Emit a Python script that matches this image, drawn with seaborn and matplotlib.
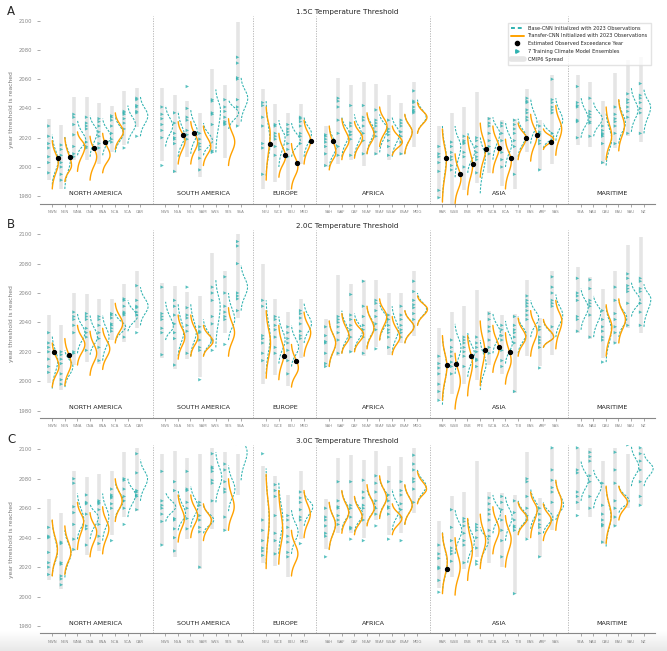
import numpy as np
import matplotlib
matplotlib.use('Agg')
import matplotlib.pyplot as plt
import seaborn as sns
import pandas as pd
from matplotlib.lines import Line2D

# regions and groups
regions = ['NWN', 'NEN', 'WNA', 'CNA', 'ENA', 'NCA', 'SCA', 'CAR',
           'NWS', 'NSA', 'NES', 'SAM', 'SWS', 'SES', 'SSA',
           'NEU', 'WCE', 'EEU', 'MED',
           'SAH', 'WAF', 'CAF', 'NEAF', 'SEAF', 'WSAF', 'ESAF', 'MDG',
           'RAR', 'WSB', 'ESB', 'RFE', 'WCA', 'ECA', 'TIB', 'EAS', 'ARP', 'SAS',
           'SEA', 'NAU', 'CAU', 'EAU', 'SAU', 'NZ']
group_names = ['NORTH AMERICA', 'SOUTH AMERICA', 'EUROPE', 'AFRICA', 'ASIA', 'MARITIME']
group_sizes = [8, 7, 4, 8, 10, 6]
thresholds = ['1.5C', '2.0C', '3.0C']
letters = ['A', 'B', 'C']
N = None

# ---------------- 1.5C ----------------
cmip_a = [(1991, 2033), (1985, 2029), (2005, 2048), (2005, 2048), (2002, 2044), (2010, 2042), (2015, 2052), (2027, 2054),
          (2004, 2054), (1996, 2049), (2007, 2045), (1993, 2037), (2010, 2067), (2006, 2056), (2028, 2099),
          (1985, 2053), (1990, 2043), (1984, 2037), (2002, 2043),
          (2000, 2028), (2002, 2061), (2005, 2056), (2001, 2058), (2008, 2057), (2005, 2049), (2008, 2044), (2014, 2058),
          (1979, 2028), (1975, 2037), (1984, 2041), (1989, 2051), (1996, 2034), (1987, 2032), (1985, 2033), (2010, 2053), (1998, 2032), (2002, 2063),
          (2015, 2063), (2014, 2058), (2002, 2045), (2013, 2064), (2021, 2073), (2017, 2075)]
base_a = [(1988, 2004, 2022), (1985, 2005, 2021), (2008, 2018, 2032), (2007, 2024, 2035), (2008, 2021, 2033), (2010, 2023, 2035), (2016, 2029, 2042), (2021, 2035, 2048),
          (2014, 2028, 2042), (2007, 2021, 2038), (2009, 2024, 2039), (2008, 2018, 2030), (2010, 2039, 2053), (2026, 2037, 2046), (2031, 2047, 2061),
          (1994, 2016, 2045), (2000, 2020, 2032), (2007, 2018, 2030), (2007, 2023, 2034),
          (2000, 2014, 2028), (2007, 2023, 2034), (2007, 2023, 2036), (2009, 2025, 2037), (2010, 2026, 2036), (2007, 2023, 2034), (2009, 2024, 2036), (2023, 2034, 2046),
          (1977, 2007, 2028), (1993, 2014, 2028), (1996, 2011, 2024), (1982, 2007, 2021), (2005, 2023, 2034), (2000, 2016, 2031), (2007, 2021, 2033), (2016, 2030, 2047), (2013, 2021, 2030), (2018, 2032, 2047),
          (2020, 2033, 2048), (2021, 2033, 2044), (2001, 2019, 2037), (2016, 2030, 2046), (2024, 2039, 2054), (2023, 2041, 2053)]
transfer_a = [(1985, 2003, 2018), (1990, 2001, 2020), (1997, 2014, 2024), (1991, 2007, 2021), (1996, 2008, 2023), (2012, 2024, 2037), N, N,
              N, (2002, 2018, 2031), (2002, 2017, 2031), (2001, 2014, 2028), N, (2001, 2017, 2033), N,
              (1991, 2023, 2041), (1993, 2007, 2023), (1985, 2000, 2016), (2002, 2018, 2032),
              (1998, 2010, 2028), (2005, 2018, 2033), (2006, 2020, 2031), (2009, 2022, 2037), (2014, 2028, 2041), (2008, 2017, 2028), (2009, 2024, 2036), (2023, 2034, 2044),
              (1976, 2005, 2026), (1975, 1992, 2009), (1981, 2001, 2021), (1993, 2012, 2030), (1996, 2013, 2028), (1985, 2004, 2019), (2005, 2020, 2030), (2004, 2021, 2036), (2012, 2019, 2026), (2008, 2026, 2042),
              N, N, (2005, 2021, 2041), (2011, 2028, 2046), N, N]
obs_a = [2006, 2007, N, 2013, 2017, N, N, N,
         N, 2022, 2023, N, N, N, N,
         2016, 2008, 2003, 2018,
         2018, N, N, N, N, N, N, N,
         2006, 1995, 2002, 2012, 2013, 2006, 2020, 2022, 2017, N,
         N, N, N, N, N, N]
ens_a = [[2028, 2021, 2016, 2013, 2007, 2003, 1996], [2015, 2012, 2008, 2003, 2000, 1995, 1991],
         [2036, 2034, 2029, 2022, 2014, 2009, 2007], [2034, 2030, 2028, 2026, 2017, 2014, 2013],
         [2033, 2031, 2028, 2024, 2021, 2016, 2013], [2035, 2034, 2032, 2028, 2023, 2019, 2017],
         [2038, 2037, 2036, 2033, 2030, 2026, 2013], [2047, 2046, 2042, 2041, 2038, 2037, 2021],
         [2041, 2036, 2033, 2029, 2025, 2020, 2001], [2037, 2030, 2023, 2020, 2019, 2016, 1997],
         [2055, 2040, 2034, 2032, 2025, 2022, 2019], [2023, 2019, 2016, 2014, 2012, 2006, 1998],
         [2046, 2045, 2037, 2036, 2029, 2011, 2010], [2046, 2041, 2038, 2034, 2031, 2030, 2029],
         [2075, 2071, 2061, 2060, 2046, 2041, 2028],
         [2044, 2042, 2034, 2028, 2016, 2013, 1995], [2029, 2028, 2023, 2021, 2019, 2014, 2008],
         [2029, 2026, 2024, 2022, 2016, 2012, 2007], [2034, 2033, 2031, 2028, 2023, 2021, 2016],
         [2022, 2021, 2019, 2017, 2014, 2009, 2001], [2047, 2045, 2041, 2032, 2023, 2014, 2008],
         [2042, 2030, 2028, 2024, 2022, 2019, 2008], [2042, 2034, 2032, 2028, 2023, 2018, 2009],
         [2039, 2032, 2030, 2028, 2024, 2021, 2009], [2032, 2026, 2024, 2022, 2018, 2014, 2008],
         [2032, 2030, 2028, 2024, 2021, 2017, 2009], [2052, 2045, 2044, 2041, 2039, 2038, 2037],
         [2014, 2009, 2007, 2003, 1997, 1984, 1979], [2017, 2014, 2010, 2007, 2005, 2001, 1998],
         [2021, 2018, 2017, 2016, 2010, 2007, 2000], [2020, 2018, 2014, 2010, 2007, 2005, 1996],
         [2033, 2030, 2028, 2023, 2018, 2014, 2009], [2030, 2028, 2023, 2018, 2010, 2005, 2000],
         [2032, 2029, 2026, 2023, 2018, 2014, 1995], [2047, 2045, 2044, 2039, 2037, 2034, 2032],
         [2028, 2024, 2023, 2022, 2018, 2016, 1998], [2060, 2046, 2044, 2041, 2039, 2037, 2023],
         [2055, 2044, 2042, 2041, 2032, 2031, 2020], [2047, 2038, 2036, 2034, 2031, 2030, 2021],
         [2028, 2025, 2023, 2022, 2021, 2016, 2003], [2041, 2036, 2033, 2031, 2028, 2023, 2016],
         [2050, 2046, 2044, 2041, 2038, 2034, 2023], [2057, 2049, 2047, 2044, 2040, 2037, 2023]]

# ---------------- 2.0C ----------------
cmip_b = [(1999, 2045), (1994, 2038), (2011, 2060), (2013, 2059), (2012, 2056), (2028, 2056), (2027, 2066), (2036, 2075),
          (2016, 2067), (2008, 2065), (2015, 2061), (2003, 2058), (2025, 2087), (2033, 2075), (2043, 2100),
          (1998, 2080), (2004, 2056), (1997, 2047), (2016, 2056),
          (2010, 2042), (2017, 2072), (2020, 2066), (2017, 2069), (2023, 2069), (2018, 2060), (2026, 2060), (2031, 2075),
          (1988, 2036), (1991, 2047), (1998, 2051), (2001, 2062), (2011, 2048), (2005, 2045), (1992, 2046), (2017, 2069), (2010, 2043), (2018, 2075),
          (2033, 2078), (2029, 2071), (2016, 2063), (2026, 2075), (2036, 2093), (2033, 2098)]
base_b = [(1995, 2014, 2031), (1996, 2010, 2021), (2019, 2033, 2046), (2018, 2030, 2045), (2014, 2030, 2045), (2027, 2037, 2046), (2034, 2044, 2055), (2038, 2051, 2064),
          (2028, 2037, 2054), (2017, 2033, 2053), (2017, 2033, 2053), (2017, 2028, 2042), (2023, 2051, 2069), (2028, 2042, 2060), (2048, 2064, 2079),
          (2005, 2030, 2055), (2012, 2028, 2044), (2010, 2023, 2038), (2026, 2039, 2053),
          (2010, 2026, 2041), (2019, 2033, 2048), (2021, 2034, 2046), (2023, 2037, 2051), (2028, 2042, 2053), (2019, 2035, 2051), (2026, 2037, 2048), (2038, 2049, 2060),
          (1984, 2010, 2031), (2005, 2023, 2039), (2003, 2019, 2033), (1994, 2012, 2028), (2019, 2033, 2046), (2012, 2026, 2041), (2019, 2032, 2044), (2030, 2043, 2055), (2023, 2030, 2041), (2030, 2045, 2059),
          (2035, 2050, 2063), (2030, 2047, 2058), (2013, 2035, 2051), (2030, 2043, 2055), (2044, 2055, 2067), (2037, 2056, 2066)]
transfer_b = [(1996, 2010, 2026), (1997, 2012, 2029), (2011, 2025, 2038), (2004, 2019, 2034), (2008, 2022, 2036), (2026, 2039, 2053), N, N,
              N, (2015, 2030, 2045), (2017, 2030, 2045), (2017, 2027, 2038), N, (2017, 2033, 2050), N,
              (2002, 2026, 2048), (2001, 2019, 2038), (1996, 2009, 2025), (2017, 2033, 2047),
              (2010, 2026, 2041), (2019, 2030, 2046), (2020, 2032, 2042), (2022, 2036, 2051), (2028, 2044, 2056), (2018, 2030, 2044), (2026, 2037, 2048), (2038, 2049, 2058),
              (1987, 2010, 2031), (1981, 2000, 2019), (1990, 2012, 2031), (1997, 2021, 2041), (2006, 2022, 2038), (1998, 2014, 2033), (2017, 2030, 2043), (2017, 2034, 2048), (2023, 2030, 2042), (2022, 2041, 2055),
              N, N, (2017, 2037, 2052), (2026, 2042, 2056), N, N]
obs_b = [2020, 2018, N, N, N, N, N, N,
         N, N, N, N, N, N, N,
         N, 2017, 2014, N,
         N, N, N, N, N, N, N, N,
         2011, 2012, 2017, 2021, 2023, 2020, N, N, N, N,
         N, N, N, N, N, N]
ens_b = [[2033, 2026, 2023, 2020, 2015, 2010, 2006], [2020, 2018, 2015, 2012, 2005, 2001, 1998],
         [2047, 2044, 2042, 2038, 2033, 2020, 2019], [2046, 2044, 2042, 2036, 2033, 2030, 2021],
         [2044, 2042, 2038, 2033, 2029, 2023, 2014], [2046, 2045, 2043, 2039, 2038, 2036, 2034],
         [2056, 2055, 2051, 2047, 2046, 2045, 2030], [2065, 2055, 2051, 2050, 2047, 2045, 2033],
         [2064, 2046, 2044, 2042, 2036, 2033, 2018], [2055, 2051, 2045, 2039, 2033, 2029, 2011],
         [2064, 2050, 2045, 2043, 2038, 2034, 2019], [2037, 2034, 2033, 2028, 2023, 2021, 2001],
         [2064, 2060, 2055, 2044, 2039, 2028, 2021], [2071, 2060, 2051, 2047, 2044, 2042, 2025],
         [2095, 2092, 2080, 2060, 2058, 2056, 2048],
         [2055, 2051, 2031, 2029, 2026, 2019, 2014], [2044, 2042, 2038, 2035, 2030, 2023, 2019],
         [2037, 2033, 2029, 2026, 2021, 2014, 2005], [2048, 2046, 2043, 2039, 2034, 2031, 2029],
         [2037, 2031, 2027, 2026, 2019, 2012, 2010], [2044, 2042, 2040, 2037, 2033, 2028, 2019],
         [2059, 2045, 2042, 2038, 2035, 2030, 2020], [2068, 2051, 2044, 2038, 2035, 2030, 2019],
         [2055, 2053, 2048, 2044, 2039, 2035, 2022], [2045, 2042, 2038, 2035, 2033, 2030, 2023],
         [2051, 2045, 2042, 2038, 2035, 2033, 2030], [2068, 2061, 2055, 2052, 2050, 2046, 2042],
         [2017, 2012, 2009, 2005, 1998, 1993, 1987], [2028, 2023, 2020, 2017, 2013, 2010, 2005],
         [2030, 2028, 2026, 2023, 2020, 2017, 2010], [2030, 2026, 2023, 2020, 2015, 2014, 2010],
         [2046, 2042, 2037, 2034, 2028, 2023, 2019], [2038, 2035, 2031, 2028, 2021, 2014, 2010],
         [2044, 2038, 2035, 2033, 2030, 2026, 1993], [2058, 2055, 2053, 2051, 2048, 2045, 2042],
         [2037, 2035, 2030, 2028, 2026, 2023, 2009], [2071, 2064, 2060, 2055, 2053, 2051, 2037],
         [2070, 2060, 2058, 2055, 2044, 2042, 2034], [2069, 2063, 2055, 2053, 2051, 2045, 2030],
         [2048, 2042, 2037, 2034, 2030, 2028, 2013], [2064, 2055, 2046, 2042, 2037, 2033, 2026],
         [2073, 2070, 2065, 2063, 2061, 2053, 2038], [2070, 2068, 2063, 2061, 2053, 2047, 2038]]

# ---------------- 3.0C ----------------
cmip_c = [(2011, 2066), (2005, 2057), (2031, 2085), (2028, 2081), (2031, 2083), (2042, 2085), (2054, 2098), (2058, 2101),
          (2035, 2097), (2027, 2099), (2039, 2094), (2019, 2097), (2046, 2101), (2045, 2098), (2069, 2097),
          (2023, 2089), (2021, 2082), (2013, 2069), (2039, 2085),
          (2032, 2066), (2043, 2094), (2043, 2096), (2040, 2093), (2052, 2099), (2042, 2089), (2043, 2095), (2057, 2101),
          (2006, 2051), (2013, 2068), (2019, 2071), (2027, 2092), (2023, 2071), (2020, 2070), (2002, 2069), (2040, 2098), (2027, 2067), (2045, 2101),
          (2059, 2101), (2054, 2101), (2036, 2092), (2048, 2101), (2060, 2097), (2062, 2101)]
base_c = [(2014, 2030, 2052), (2013, 2030, 2045), (2039, 2052, 2070), (2039, 2054, 2063), (2038, 2054, 2070), (2053, 2065, 2078), (2054, 2069, 2080), (2065, 2080, 2093),
          (2051, 2061, 2071), (2045, 2056, 2072), (2047, 2061, 2075), (2043, 2052, 2062), (2064, 2081, 2098), (2058, 2073, 2089), (2079, 2098, 2112),
          (2022, 2050, 2087), (2029, 2052, 2078), (2029, 2044, 2059), (2048, 2061, 2071),
          (2032, 2049, 2064), (2045, 2058, 2072), (2044, 2056, 2068), (2049, 2061, 2073), (2054, 2068, 2080), (2045, 2059, 2073), (2049, 2062, 2076), (2063, 2075, 2086),
          (2003, 2022, 2044), (2029, 2045, 2059), (2023, 2037, 2053), (2022, 2038, 2047), (2043, 2057, 2069), (2038, 2054, 2068), (2043, 2054, 2065), (2046, 2060, 2073), (2043, 2054, 2064), (2052, 2062, 2078),
          (2065, 2079, 2092), (2060, 2075, 2086), (2034, 2054, 2075), (2057, 2065, 2075), (2075, 2088, 2102), (2075, 2087, 2097)]
transfer_c = [(2014, 2032, 2052), (2015, 2030, 2048), (2032, 2051, 2064), (2027, 2044, 2057), (2029, 2046, 2061), (2051, 2065, 2080), N, N,
              N, (2037, 2053, 2069), (2040, 2055, 2069), (2038, 2052, 2063), N, (2045, 2061, 2080), N,
              (2019, 2054, 2083), (2022, 2045, 2072), (2014, 2029, 2045), (2040, 2056, 2072),
              (2032, 2049, 2064), (2043, 2057, 2072), (2042, 2054, 2068), (2048, 2060, 2076), (2053, 2067, 2082), (2042, 2053, 2063), (2049, 2062, 2076), (2063, 2073, 2085),
              (2002, 2024, 2043), (2001, 2020, 2040), (2011, 2031, 2053), (2019, 2038, 2056), (2029, 2045, 2061), (2020, 2039, 2055), (2042, 2053, 2064), (2040, 2059, 2071), (2038, 2052, 2063), (2045, 2064, 2079),
              N, N, (2036, 2055, 2075), (2052, 2064, 2075), N, N]
obs_c = [N] * 27 + [2019] + [N] * 15
ens_c = [[2047, 2041, 2040, 2030, 2023, 2020, 2015], [2037, 2036, 2023, 2022, 2014, 2012, 2008],
         [2080, 2077, 2061, 2057, 2049, 2039, 2032], [2069, 2064, 2063, 2056, 2048, 2046, 2035],
         [2065, 2064, 2063, 2059, 2049, 2041, 2036], [2073, 2069, 2068, 2067, 2063, 2060, 2038],
         [2080, 2079, 2073, 2068, 2065, 2060, 2049], [2097, 2084, 2072, 2071, 2069, 2068, 2059],
         [2085, 2065, 2062, 2060, 2056, 2051, 2035], [2078, 2072, 2053, 2052, 2046, 2040, 2031],
         [2085, 2073, 2072, 2064, 2060, 2053, 2046], [2064, 2062, 2055, 2052, 2047, 2044, 2020],
         [2097, 2088, 2087, 2085, 2079, 2077, 2065], [2090, 2086, 2078, 2073, 2071, 2054, 2045],
         [2116, 2114, 2112, 2110, 2108, 2106, 2104],
         [2097, 2052, 2045, 2038, 2033, 2031, 2028], [2076, 2072, 2068, 2055, 2043, 2038, 2029],
         [2055, 2052, 2047, 2041, 2037, 2030, 2027], [2071, 2067, 2064, 2059, 2054, 2052, 2036],
         [2060, 2054, 2052, 2048, 2043, 2041, 2027], [2078, 2065, 2061, 2060, 2055, 2052, 2049],
         [2078, 2062, 2060, 2054, 2047, 2046, 2039], [2079, 2071, 2067, 2062, 2060, 2052, 2038],
         [2082, 2077, 2071, 2065, 2060, 2056, 2048], [2078, 2069, 2065, 2061, 2060, 2056, 2039],
         [2078, 2072, 2069, 2063, 2059, 2054, 2038], [2096, 2090, 2086, 2080, 2078, 2073, 2064],
         [2035, 2029, 2026, 2020, 2019, 2011, 2003], [2059, 2047, 2038, 2033, 2031, 2029, 2024],
         [2053, 2051, 2048, 2043, 2038, 2035, 2023], [2049, 2047, 2045, 2040, 2033, 2024, 2022],
         [2067, 2063, 2059, 2056, 2052, 2045, 2041], [2068, 2064, 2059, 2052, 2045, 2038, 2027],
         [2065, 2057, 2052, 2048, 2047, 2045, 2002], [2080, 2078, 2068, 2060, 2055, 2052, 2039],
         [2060, 2056, 2052, 2049, 2047, 2043, 2027], [2101, 2086, 2079, 2074, 2071, 2064, 2052],
         [2101, 2086, 2084, 2071, 2068, 2064, 2055], [2098, 2095, 2092, 2082, 2078, 2068, 2060],
         [2077, 2062, 2056, 2052, 2049, 2048, 2037], [2098, 2086, 2077, 2065, 2060, 2054, 2048],
         [2115, 2113, 2111, 2109, 2107, 2105, 2103], [2101, 2097, 2092, 2086, 2078, 2068, 2062]]

panels = [(cmip_a, base_a, transfer_a, obs_a, ens_a),
          (cmip_b, base_b, transfer_b, obs_b, ens_b),
          (cmip_c, base_c, transfer_c, obs_c, ens_c)]

# x positions: one empty slot between groups
pos, seps, centers = [], [], []
x = 0
for size in group_sizes:
    start = x
    for _ in range(size):
        pos.append(x)
        x += 1
    centers.append((start + x - 1) / 2)
    seps.append(x)
    x += 1
seps = seps[:-1]

teal = '#2fb2b0'
orange = '#ffa200'
grey = '#e5e5e5'
K = 3.3


def dist_x(p, lo, mu, hi, y):
    sl, sr = (mu - lo) / 2.5, (hi - mu) / 2.5
    s = np.where(y < mu, sl, sr)
    h = min(K / ((sl + sr) / 2), 0.85)
    return p + h * np.exp(-0.5 * ((y - mu) / s) ** 2)


sns.set_style('white')
fig = plt.figure(figsize=(6.67, 6.51), dpi=100)
axes_rect = [[0.06, 0.6873, 0.922, 0.2877],
             [0.06, 0.358, 0.922, 0.289],
             [0.06, 0.027, 0.922, 0.2896]]

# soft grey shade at the bottom edge
shade = fig.add_axes([0, 0, 1, 0.03], zorder=-1)
g = np.linspace(0.91, 1.0, 40).reshape(-1, 1)
shade.imshow(np.dstack([g, g, g]), aspect='auto', extent=[0, 1, 0, 1], origin='lower')
shade.axis('off')

for k, (cmip, base, transfer, obs, ens) in enumerate(panels):
    ax = fig.add_axes(axes_rect[k])
    ax.patch.set_alpha(0)
    for i, p in enumerate(pos):
        lo, hi = cmip[i]
        ax.plot([p - 0.25, p - 0.25], [lo, hi], color=grey, lw=2.6, solid_capstyle='butt', zorder=1)
    ens_df = pd.DataFrame({'x': np.repeat(np.array(pos) - 0.25, 7),
                           'year': np.concatenate(ens)})
    sns.scatterplot(data=ens_df, x='x', y='year', marker='>', s=6, color=teal,
                    edgecolor='none', alpha=0.8, ax=ax, zorder=3)
    for i, p in enumerate(pos):
        lo, mu, hi = base[i]
        y = np.linspace(lo, hi, 120)
        ax.plot(dist_x(p, lo, mu, hi, y), y, color=teal, lw=0.75, ls=(0, (2.2, 1.3)), zorder=4)
        if transfer[i] is not None:
            lo, mu, hi = transfer[i]
            y = np.linspace(lo, hi, 120)
            ax.plot(dist_x(p, lo, mu, hi, y), y, color=orange, lw=1.0, zorder=5)
            if obs[i] is not None:
                ox = dist_x(p, lo, mu, hi, np.array([obs[i]]))[0]
                ax.plot(ox, obs[i], 'o', color='black', ms=2.8, zorder=6)
    for s in seps:
        ax.axvline(s, color='#b0b0b0', ls=(0, (1.5, 1.5)), lw=0.6, zorder=0)
    for c, name in zip(centers, group_names):
        ax.text(c, 1982, name, ha='center', va='center', fontsize=4.6, color='#222222')

    ax.set_xlim(-0.95, 47.9)
    ax.set_ylim(1975, 2103)
    ax.set_xticks(pos)
    ax.set_xticklabels(regions, fontsize=2.8, color='#888888')
    ax.set_yticks(range(1980, 2101, 20))
    ax.set_yticklabels([str(v) for v in range(1980, 2101, 20)], fontsize=3.8, color='#888888')
    ax.tick_params(axis='x', length=2, width=0.5, color='#888888', pad=2.5, bottom=True)
    ax.tick_params(axis='y', length=2, width=0.5, color='#888888', pad=4, left=True)
    ax.set_xlabel('')
    ax.set_ylabel('year threshold is reached', fontsize=4.3, color='#777777', labelpad=3)
    for side in ['top', 'right', 'left']:
        ax.spines[side].set_visible(False)
    ax.spines['bottom'].set_color('#888888')
    ax.spines['bottom'].set_linewidth(0.8)
    ax.set_title(thresholds[k] + ' Temperature Threshold', fontsize=5.2, pad=1.5)
    fig.text(0.011, axes_rect[k][1] + axes_rect[k][3] + 0.008, letters[k], fontsize=8.5, va='center')

    if k == 0:
        handles = [Line2D([], [], color=teal, lw=1.4, ls=(0, (2, 1.5))),
                   Line2D([], [], color=orange, lw=1.4),
                   Line2D([], [], color='black', marker='o', ls='none', ms=3),
                   Line2D([], [], color=teal, marker='>', ls='none', ms=2.5),
                   Line2D([], [], color=grey, lw=4)]
        labels = ['Base-CNN Initialized with 2023 Observations',
                  'Transfer-CNN Initialized with 2023 Observations',
                  'Estimated Observed Exceedance Year',
                  '7 Training Climate Model Ensembles',
                  'CMIP6 Spread']
        ax.legend(handles, labels, loc='upper right', bbox_to_anchor=(0.997, 0.98),
                  fontsize=3.6, frameon=True, edgecolor='#dddddd', fancybox=False,
                  handlelength=2.6, labelspacing=0.55, borderpad=0.6)

fig.savefig('out.png', dpi=100)
